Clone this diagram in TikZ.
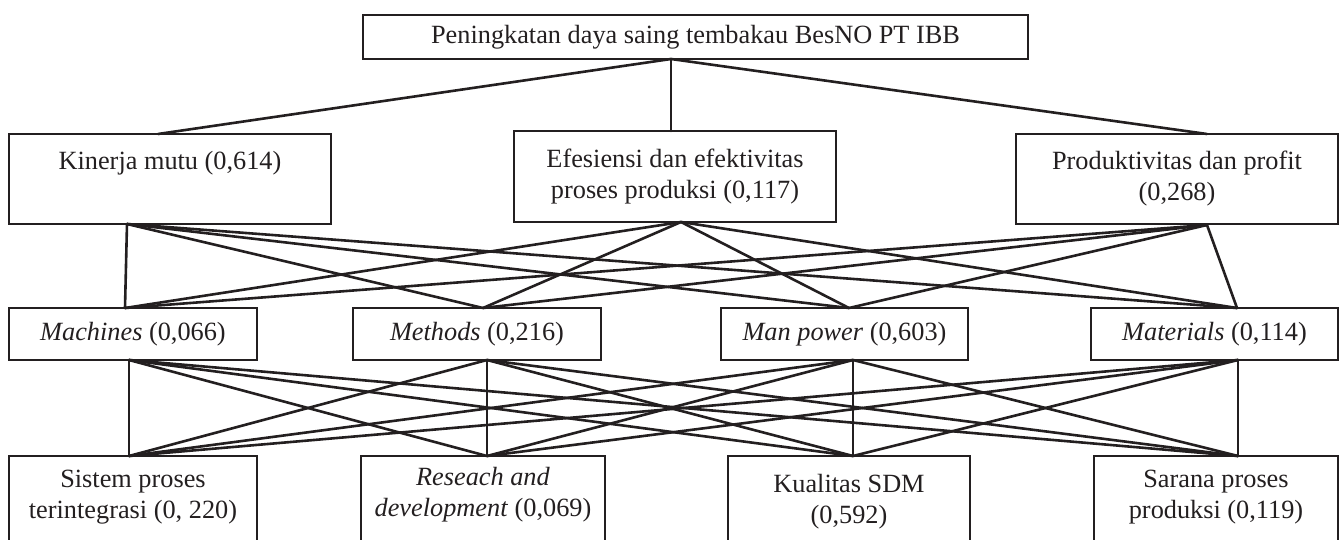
\documentclass[tikz,border=0pt]{standalone}
\usepackage{fontspec}
\setmainfont{Liberation Serif}
\definecolor{ink}{RGB}{35,31,32}
\begin{document}
\begin{tikzpicture}[x=1pt,y=-1pt,
  box/.style={draw=ink, line width=2.6pt, rectangle, inner sep=0pt, align=center,
    font=\fontsize{26.3}{31}\selectfont, text=ink},
  txt/.style={inner sep=0pt, align=center, font=\fontsize{26.3}{31}\selectfont, text=ink},
  conn/.style={draw=ink, line width=2.6pt, line cap=round}]
\useasboundingbox (0,0) rectangle (1341,540);
% level 1
\node[box, minimum width=665, minimum height=44] (top) at (695.5,37) {Peningkatan daya saing tembakau BesNO PT IBB};
% level 2
\node[box, minimum width=322, minimum height=90] (kin) at (170,179) {Kinerja mutu (0,614)\\[6pt]};
\node[box, minimum width=322, minimum height=91] (eff) at (675,176.5) {Efesiensi dan efektivitas\\proses produksi (0,117)};
\node[box, minimum width=322, minimum height=90] (pro) at (1177,179) {Produktivitas dan profit\\(0,268)};
% level 3
\node[box, minimum width=248, minimum height=52] (mac) at (133,334) {\textit{Machines} (0,066)};
\node[box, minimum width=248, minimum height=52] (met) at (477,334) {\textit{Methods} (0,216)};
\node[box, minimum width=247, minimum height=52] (man) at (844.5,334) {\textit{Man power} (0,603)};
\node[box, minimum width=247, minimum height=52] (mat) at (1214.5,334) {\textit{Materials} (0,114)};
% level 4 (boxes run off the bottom edge)
\node[box, minimum width=248, minimum height=110] (sis) at (133,511) {};
\node[box, minimum width=244, minimum height=110] (res) at (483,511) {};
\node[box, minimum width=242, minimum height=110] (kua) at (849,511) {};
\node[box, minimum width=244, minimum height=110] (sar) at (1216,511) {};
\node[txt] (sisT) at (133,497.5) {Sistem proses\\terintegrasi (0, 220)};
\node[txt] (resT) at (483,494.5) {\textit{Reseach and}\\\textit{development} (0,069)};
\node[txt] (kuaT) at (849,502) {Kualitas SDM\\(0,592)};
\node[txt] (sarT) at (1216,497.5) {Sarana proses\\produksi (0,119)};
% connection points
\coordinate (topP) at (671,59);
\coordinate (kinU) at (158,134);
\coordinate (effU) at (671,131);
\coordinate (proU) at (1207,134);
\coordinate (kinD) at (127,224);
\coordinate (effD) at (681,222);
\coordinate (proD) at (1207,225);
\coordinate (macU) at (125,308);
\coordinate (metU) at (483,308);
\coordinate (manU) at (849,308);
\coordinate (matU) at (1237,308);
\coordinate (macD) at (129,360);
\coordinate (metD) at (487,360);
\coordinate (manD) at (853,360);
\coordinate (matD) at (1238,360);
\coordinate (sisU) at (129,456);
\coordinate (resU) at (487,456);
\coordinate (kuaU) at (853,456);
\coordinate (sarU) at (1238,456);
% connectors
\draw[conn] (topP) -- (kinU);
\draw[conn] (topP) -- (effU);
\draw[conn] (topP) -- (proU);
\foreach \a in {kinD,effD,proD}
  \foreach \b in {macU,metU,manU,matU}
    \draw[conn] (\a) -- (\b);
\foreach \a in {macD,metD,manD,matD}
  \foreach \b in {sisU,resU,kuaU,sarU}
    \draw[conn] (\a) -- (\b);
\end{tikzpicture}
\end{document}
